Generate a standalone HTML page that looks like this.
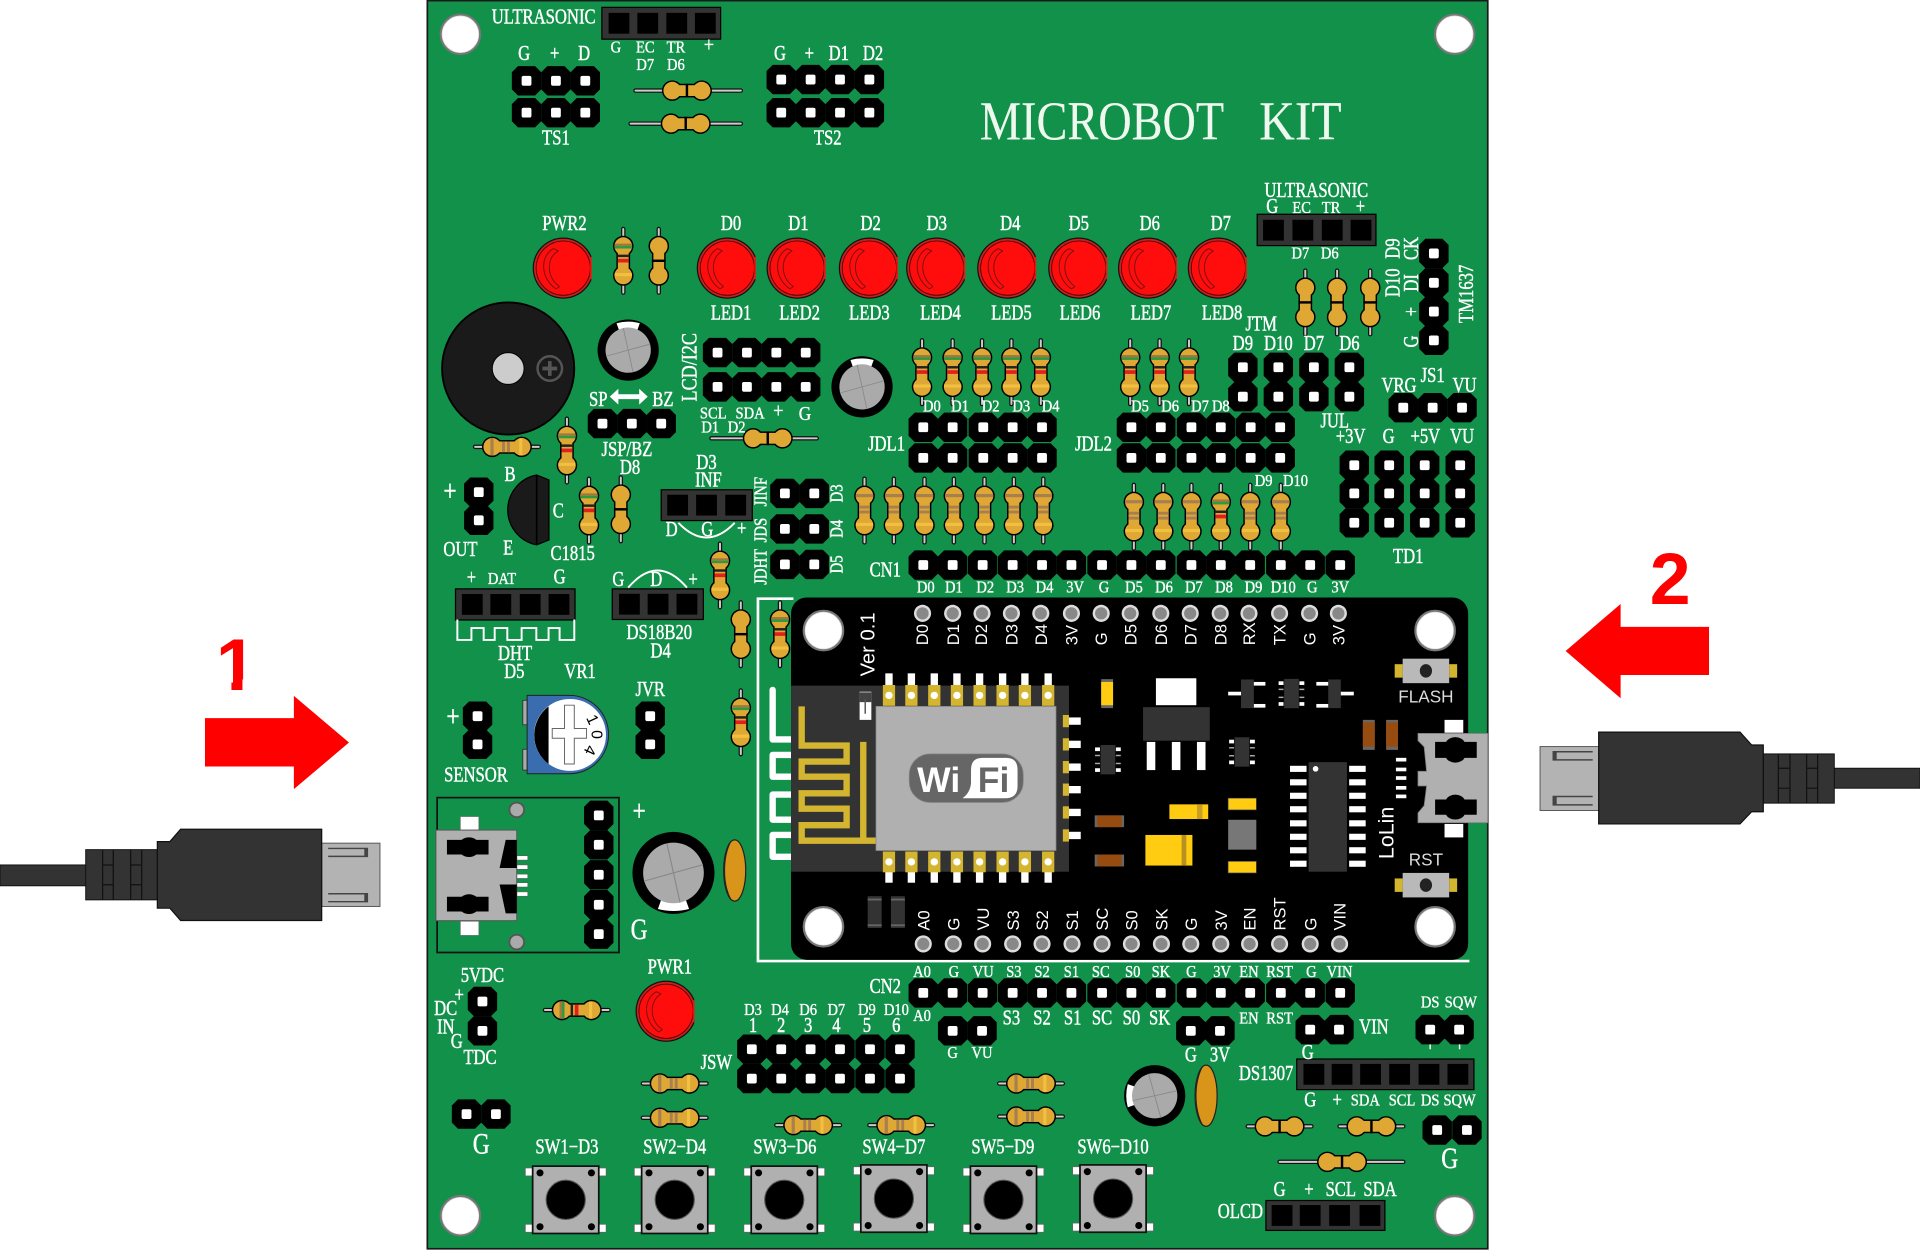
<!DOCTYPE html>
<html><head><meta charset="utf-8"><title>Microbot Kit</title>
<style>
html,body{margin:0;padding:0;background:#fff;width:1920px;height:1250px;overflow:hidden}
svg{display:block}
text{font-family:"Liberation Serif",serif;fill:#fff;stroke:#fff;stroke-width:.35;text-anchor:middle;transform-box:fill-box;transform-origin:center;transform:scaleX(.8)}
.sm text{transform:scaleX(.88);stroke-width:.3}
text.n{font-family:"Liberation Sans",sans-serif;stroke:none;transform:none}
text.t{stroke-width:.1;fill:#eef8ee;stroke:#eef8ee;transform:scaleX(.84)}
text.t2{stroke-width:.1;fill:#eef8ee;stroke:#eef8ee;transform:scaleX(.9)}
</style></head><body>
<svg xmlns="http://www.w3.org/2000/svg" width="1920" height="1250" viewBox="0 0 1568 1021" preserveAspectRatio="none">
<defs>
<g id="p"><path d="M-7,-12H7L12,-7V7L7,12H-7L-12,7V-7Z" fill="#000"/><rect x="-4" y="-4" width="8" height="8" rx="1.5" fill="#fff"/></g>
<rect id="s" x="-8.5" y="-8.5" width="17" height="17" fill="#000"/>
<g id="h"><circle r="16" fill="#fff" stroke="#777" stroke-width="2"/><circle r="15" fill="none" stroke="#ddd" stroke-width=".6"/></g>
<clipPath id="lc"><rect x="-30" y="-30" width="53" height="60"/></clipPath>
<g id="l"><g clip-path="url(#lc)"><circle r="25" fill="#111"/><circle r="24" fill="#c62020"/><circle r="22.5" fill="#400"/><circle r="21.8" fill="#ff0d0d"/></g><rect x="22" y="-9" width="1.2" height="18" fill="#ff0d0d"/><path d="M-8,-16C-19,-10-19,8-6,17M-4,-14C-14,-9-14,8-3,15M-8,-16L-4,-14M-6,17L-3,15" fill="none" stroke="#7a1010" stroke-width=".8"/></g>
<g id="bs"><circle cx="-12" r="8.4" fill="#000"/><circle cx="12" r="8.4" fill="#000"/><rect x="-12" y="-5.6" width="24" height="11.2" fill="#000"/><circle cx="-12" r="7.2" fill="#dfa733"/><circle cx="12" r="7.2" fill="#dfa733"/><rect x="-12" y="-4.4" width="24" height="8.8" fill="#dfa733"/></g>
<g id="b0"><use href="#bs"/><rect x="-1" y="-5.6" width="2" height="11.2" fill="#000"/></g>
<g id="b1"><use href="#bs"/><rect x="-13.5" y="-7" width="2.6" height="14" fill="#a87f4f"/><rect x="-4" y="-4.4" width="2.4" height="8.8" fill="#a87f4f"/><rect x="0" y="-4.4" width="2.4" height="8.8" fill="#a87f4f"/><rect x="10" y="-7" width="2.6" height="14" fill="#f0c040"/></g>
<g id="b2"><use href="#bs"/><rect x="-14" y="-7" width="2" height="14" fill="#9a7a40"/><rect x="-12" y="-7" width="2" height="14" fill="#2d9a40"/><rect x="-1.6" y="-4.4" width="3" height="8.8" fill="#e02020"/><rect x="-5" y="-4.4" width="2" height="8.8" fill="#222"/><rect x="10" y="-7" width="2.6" height="14" fill="#f0c040"/></g>
<g id="L"><line x1="-26" x2="26" stroke="#111" stroke-width="3.6" stroke-linecap="round"/><line x1="-26" x2="26" stroke="#ccc" stroke-width="1.6" stroke-linecap="round"/></g>
<g id="r0"><use href="#L"/><use href="#b0"/></g>
<g id="r1"><use href="#L"/><use href="#b1"/></g>
<g id="r2"><use href="#L"/><use href="#b2"/></g>
<g id="c"><circle r="25" fill="#000"/><path d="M-9.500,-22Q0,-24.500 9.500,-22L7,-15H-7Z" fill="#fff"/><circle r="18.5" fill="#aaa"/><path d="M-18,5L18,-5M-4,-18L4,18" stroke="#888" stroke-width=".7"/></g>
<g id="sw"><rect x="-33" y="-26" width="7" height="6.5" fill="#fff" stroke="#666" stroke-width=".6"/><rect x="26" y="-26" width="7" height="6.5" fill="#fff" stroke="#666" stroke-width=".6"/><rect x="-33" y="20" width="7" height="6.5" fill="#fff" stroke="#666" stroke-width=".6"/><rect x="26" y="20" width="7" height="6.5" fill="#fff" stroke="#666" stroke-width=".6"/><rect x="-27" y="-27.5" width="54" height="55" fill="#b0b0b0" stroke="#111" stroke-width="1.4"/><circle cx="-21" cy="-22" r="2.9" fill="#000"/><circle cx="21" cy="-22" r="2.9" fill="#000"/><circle cx="-21" cy="22" r="2.9" fill="#000"/><circle cx="21" cy="22" r="2.9" fill="#000"/><circle r="16" fill="#000" stroke="#555" stroke-width=".9"/><circle r="14.6" fill="#000"/></g>
<g id="gp"><rect x="-5" y="-8.5" width="10" height="17" fill="#d4b52f"/><circle r="3" fill="#fff"/></g>
<g id="ic"><rect x="-6" y="-12" width="12" height="24" fill="#333"/><rect x="-10.500" y="-10" width="4" height="3" fill="#fff"/><rect x="6.500" y="-10" width="4" height="3" fill="#fff"/><rect x="-10.500" y="7" width="4" height="3" fill="#fff"/><rect x="6.500" y="7" width="4" height="3" fill="#fff"/><rect x="-10.500" y="-4" width="4" height="1.200" fill="#aaa"/><rect x="6.500" y="-4" width="4" height="1.200" fill="#aaa"/><rect x="-10.500" y="2.500" width="4" height="1.200" fill="#aaa"/><rect x="6.500" y="2.500" width="4" height="1.200" fill="#aaa"/></g>
<g id="th"><circle r="7" fill="#ddd"/><circle r="5" fill="#888"/></g>
<g id="bt"><rect x="-25.500" y="-5.500" width="6.500" height="11" fill="#d4b52f"/><rect x="19" y="-5.500" width="6.500" height="11" fill="#d4b52f"/><rect x="-19" y="-10" width="38" height="20" fill="#b9b9b9"/><ellipse rx="5" ry="5.500" fill="#222"/></g>
</defs>

<rect width="1568" height="1021" fill="#fff"/>
<!-- cables -->
<g>
<rect x="0" y="706.500" width="71" height="17" fill="#333" stroke="#111" stroke-width=".8"/>
<rect x="70" y="694" width="58.500" height="41" fill="#333" stroke="#111" stroke-width=".8"/>
<path d="M83.800,694V735M92.500,694V735M106.700,694V735M115.700,694V735M83.800,706.500H92.500M83.800,722.700H92.500M106.700,706.500H115.700M106.700,722.700H115.700" stroke="#111" stroke-width="1" fill="none"/>
<rect x="262.700" y="688.700" width="47.600" height="51.700" fill="#b3b3b3" stroke="#555" stroke-width=".8"/>
<path d="M268,693H300V699.500H268" fill="none" stroke="#444" stroke-width="1.200"/><rect x="297.500" y="693" width="2.800" height="6.500" fill="#444"/>
<path d="M268,730H300V736.500H268" fill="none" stroke="#444" stroke-width="1.200"/><rect x="297.500" y="730" width="2.800" height="6.500" fill="#444"/>
<path d="M128.500,687.400H138.800L147.500,677.300H262.700V751.900H147.500L138.800,741.800H128.500Z" fill="#333" stroke="#111" stroke-width="1"/>

<rect x="1498" y="627.500" width="70" height="16.300" fill="#333" stroke="#111" stroke-width=".8"/>
<rect x="1440" y="615.800" width="58" height="40.200" fill="#333" stroke="#111" stroke-width=".8"/>
<path d="M1452.300,615.800V656M1461.800,615.800V656M1475.400,615.800V656M1484.400,615.800V656M1452.300,627.500H1461.800M1452.300,643.800H1461.800M1475.400,627.500H1484.400M1475.400,643.800H1484.400" stroke="#111" stroke-width="1" fill="none"/>
<rect x="1257.700" y="609.800" width="48" height="52.200" fill="#b3b3b3" stroke="#555" stroke-width=".8"/>
<path d="M1300.700,614H1268.500V620.700H1300.700" fill="none" stroke="#444" stroke-width="1.200"/><rect x="1268.500" y="614" width="2.800" height="6.700" fill="#444"/>
<path d="M1300.700,650.600H1268.500V657.400H1300.700" fill="none" stroke="#444" stroke-width="1.200"/><rect x="1268.500" y="650.600" width="2.800" height="6.800" fill="#444"/>
<path d="M1440,608.500H1430.500L1421,598H1305.600V673H1421L1430.500,663H1440Z" fill="#333" stroke="#111" stroke-width="1"/>
</g>
<!-- arrows -->
<path d="M167.400,586.600H240V568.400L285,606.500L240,644.600V626.100H167.400Z" fill="#f00"/>
<path d="M1278.600,531.700L1323.500,493.300V512H1395.700V551.300H1323.500V570.300Z" fill="#f00"/>
<text class="n" x="193" y="563.500" font-size="60" font-weight="bold" style="fill:#f00">1</text>
<rect x="165" y="555" width="24" height="10" fill="#fff"/><rect x="198" y="555" width="14" height="10" fill="#fff"/>
<text class="n" x="1364" y="493.300" font-size="60" font-weight="bold" style="fill:#f00">2</text>

<!-- board -->
<rect x="349" y="0.500" width="866" height="1019.500" fill="#119149" stroke="#1a1a1a" stroke-width="1.400"/>
<use href="#h" x="376" y="28"/><use href="#h" x="1188" y="28"/><use href="#h" x="376" y="993"/><use href="#h" x="1188" y="993"/>

<!-- sockets -->
<g fill="#333" stroke="#000" stroke-width="1">
<rect x="491.500" y="6" width="97" height="26"/><rect x="1026.700" y="175" width="97" height="25.600"/>
<rect x="372" y="481" width="97.600" height="25.400"/><rect x="500" y="481" width="74.400" height="25"/>
<rect x="540" y="400" width="74.400" height="25.200"/><rect x="1059" y="865" width="144.700" height="25"/>
<rect x="1033.800" y="980.600" width="97.200" height="24.400"/>
</g>
<use href="#s" x="505.500" y="19"/><use href="#s" x="529" y="19"/><use href="#s" x="552.700" y="19"/><use href="#s" x="576" y="19"/>
<use href="#s" x="1040" y="188"/><use href="#s" x="1064" y="188"/><use href="#s" x="1088" y="188"/><use href="#s" x="1111.500" y="188"/>
<use href="#s" x="385.700" y="493.700"/><use href="#s" x="409" y="493.700"/><use href="#s" x="433" y="493.700"/><use href="#s" x="456.500" y="493.700"/>
<use href="#s" x="514" y="493.500"/><use href="#s" x="537.400" y="493.500"/><use href="#s" x="561" y="493.500"/>
<use href="#s" x="553.400" y="412.600"/><use href="#s" x="577" y="412.600"/><use href="#s" x="600.800" y="412.600"/>
<use href="#s" x="1073" y="877.500"/><use href="#s" x="1096" y="877.500"/><use href="#s" x="1119.300" y="877.500"/><use href="#s" x="1143" y="877.500"/><use href="#s" x="1167" y="877.500"/><use href="#s" x="1190.600" y="877.500"/>
<use href="#s" x="1047" y="992.800"/><use href="#s" x="1070" y="992.800"/><use href="#s" x="1094" y="992.800"/><use href="#s" x="1118.800" y="992.800"/>

<!-- silk lines -->
<g fill="none" stroke="#fff" stroke-width="1.600">
<path d="M373.500,506V522.700H385V513H395V522.700H404V513H414.300V522.700H426V513H438V522.700H448V513H457V522.700H469V506"/>
<path d="M554,427Q577,451 600,427"/><path d="M513,480Q537,452 561,480"/>
<path d="M1168,849V857M1192,849V857" stroke-width="1.200"/>
<path d="M648,489H619V785H1200" stroke-width="2.200"/>
</g>
<g fill="none" stroke="#fff" stroke-width="5.200" stroke-linejoin="round" stroke-linecap="round">
<path d="M631,563.500V604H648"/><path d="M648,616.600H631V634.400H648"/><path d="M648,649H631V669.500H648"/><path d="M648,682H631V699.800H648"/>
</g>
<path d="M498,324L505,317.500V322H522V317.500L529,324L522,330.500V326H505V330.500Z" fill="#fff"/>

<!-- pins -->
<g>
<use href="#p" x="430" y="66"/><use href="#p" x="454" y="66"/><use href="#p" x="478" y="66"/><use href="#p" x="430" y="92"/><use href="#p" x="454" y="92"/><use href="#p" x="478" y="92"/>
<use href="#p" x="638" y="65"/><use href="#p" x="662" y="65"/><use href="#p" x="686" y="65"/><use href="#p" x="710" y="65"/><use href="#p" x="638" y="92"/><use href="#p" x="662" y="92"/><use href="#p" x="686" y="92"/><use href="#p" x="710" y="92"/>
<use href="#p" x="586" y="288"/><use href="#p" x="610" y="288"/><use href="#p" x="634" y="288"/><use href="#p" x="658" y="288"/><use href="#p" x="586" y="316"/><use href="#p" x="610" y="316"/><use href="#p" x="634" y="316"/><use href="#p" x="658" y="316"/>
<use href="#p" x="492" y="346"/><use href="#p" x="516" y="346"/><use href="#p" x="540" y="346"/>
<use href="#p" x="391" y="402"/><use href="#p" x="391" y="425"/>
<use href="#p" x="390" y="585"/><use href="#p" x="390" y="608"/>
<use href="#p" x="531" y="585"/><use href="#p" x="531" y="608"/>
<use href="#p" x="641" y="403"/><use href="#p" x="665" y="403"/><use href="#p" x="641" y="432"/><use href="#p" x="665" y="432"/><use href="#p" x="641" y="461"/><use href="#p" x="665" y="461"/>
<use href="#p" x="754" y="349"/><use href="#p" x="778" y="349"/><use href="#p" x="803" y="349"/><use href="#p" x="827" y="349"/><use href="#p" x="851" y="349"/>
<use href="#p" x="754" y="374"/><use href="#p" x="778" y="374"/><use href="#p" x="803" y="374"/><use href="#p" x="827" y="374"/><use href="#p" x="851" y="374"/>
<use href="#p" x="924" y="349"/><use href="#p" x="948" y="349"/><use href="#p" x="973" y="349"/><use href="#p" x="997" y="349"/><use href="#p" x="1021.400" y="349"/><use href="#p" x="1045.500" y="349"/>
<use href="#p" x="924" y="374"/><use href="#p" x="948" y="374"/><use href="#p" x="973" y="374"/><use href="#p" x="997" y="374"/><use href="#p" x="1021.400" y="374"/><use href="#p" x="1045.500" y="374"/>
<use href="#p" x="1015" y="300"/><use href="#p" x="1044" y="300"/><use href="#p" x="1073" y="300"/><use href="#p" x="1102" y="300"/>
<use href="#p" x="1015" y="324"/><use href="#p" x="1044" y="324"/><use href="#p" x="1073" y="324"/><use href="#p" x="1102" y="324"/>
<use href="#p" x="1171" y="207"/><use href="#p" x="1171" y="231"/><use href="#p" x="1171" y="254.500"/><use href="#p" x="1171" y="278"/>
<use href="#p" x="1146" y="333"/><use href="#p" x="1170" y="333"/><use href="#p" x="1194" y="333"/>
<use href="#p" x="1106" y="380"/><use href="#p" x="1134.500" y="380"/><use href="#p" x="1163.500" y="380"/><use href="#p" x="1192.500" y="380"/>
<use href="#p" x="1106" y="403"/><use href="#p" x="1134.500" y="403"/><use href="#p" x="1163.500" y="403"/><use href="#p" x="1192.500" y="403"/>
<use href="#p" x="1106" y="427"/><use href="#p" x="1134.500" y="427"/><use href="#p" x="1163.500" y="427"/><use href="#p" x="1192.500" y="427"/>
<use href="#p" x="754" y="461.500"/><use href="#p" x="778" y="461.500"/><use href="#p" x="802.500" y="461.500"/><use href="#p" x="827" y="461.500"/><use href="#p" x="851" y="461.500"/><use href="#p" x="875" y="461.500"/><use href="#p" x="900" y="461.500"/><use href="#p" x="924" y="461.500"/><use href="#p" x="948" y="461.500"/><use href="#p" x="973" y="461.500"/><use href="#p" x="997" y="461.500"/><use href="#p" x="1021" y="461.500"/><use href="#p" x="1046" y="461.500"/><use href="#p" x="1070" y="461.500"/><use href="#p" x="1094.500" y="461.500"/>
<use href="#p" x="754" y="811"/><use href="#p" x="778" y="811"/><use href="#p" x="802.500" y="811"/><use href="#p" x="827" y="811"/><use href="#p" x="851" y="811"/><use href="#p" x="875" y="811"/><use href="#p" x="900" y="811"/><use href="#p" x="924" y="811"/><use href="#p" x="948" y="811"/><use href="#p" x="973" y="811"/><use href="#p" x="997" y="811"/><use href="#p" x="1021" y="811"/><use href="#p" x="1046" y="811"/><use href="#p" x="1070" y="811"/><use href="#p" x="1094.500" y="811"/>
<use href="#p" x="778" y="842"/><use href="#p" x="802" y="842"/><use href="#p" x="972.500" y="842"/><use href="#p" x="996.300" y="842"/><use href="#p" x="1070" y="841"/><use href="#p" x="1093.500" y="841"/><use href="#p" x="1168" y="841"/><use href="#p" x="1191.600" y="841"/>
<use href="#p" x="1173.700" y="923"/><use href="#p" x="1198" y="923"/><use href="#p" x="381" y="910"/><use href="#p" x="405" y="910"/>
<use href="#p" x="394" y="818"/><use href="#p" x="394" y="842"/>
<use href="#p" x="614" y="857"/><use href="#p" x="638" y="857"/><use href="#p" x="662" y="857"/><use href="#p" x="686" y="857"/><use href="#p" x="710.500" y="857"/><use href="#p" x="735" y="857"/>
<use href="#p" x="614" y="881"/><use href="#p" x="638" y="881"/><use href="#p" x="662" y="881"/><use href="#p" x="686" y="881"/><use href="#p" x="710.500" y="881"/><use href="#p" x="735" y="881"/>
</g>

<!-- LEDs -->
<use href="#l" x="460" y="219"/><use href="#l" x="594" y="219"/><use href="#l" x="651" y="219"/><use href="#l" x="710" y="219"/><use href="#l" x="765" y="219"/><use href="#l" x="823" y="219"/><use href="#l" x="881" y="219"/><use href="#l" x="938" y="219"/><use href="#l" x="995" y="219"/><use href="#l" x="544" y="826"/>

<!-- resistors -->
<g>
<g transform="translate(561,74)"><line x1="-42" x2="44" stroke="#111" stroke-width="3.600" stroke-linecap="round"/><line x1="-42" x2="44" stroke="#ccc" stroke-width="1.600" stroke-linecap="round"/><use href="#b0"/></g>
<g transform="translate(560,101)"><line x1="-45" x2="45" stroke="#111" stroke-width="3.600" stroke-linecap="round"/><line x1="-45" x2="45" stroke="#ccc" stroke-width="1.600" stroke-linecap="round"/><use href="#b0"/></g>
<g transform="translate(627,358)"><line x1="-46" x2="40" stroke="#111" stroke-width="3.600" stroke-linecap="round"/><line x1="-46" x2="40" stroke="#ccc" stroke-width="1.600" stroke-linecap="round"/><use href="#b0"/></g>
<g transform="translate(1096,949)"><line x1="-51" x2="50" stroke="#111" stroke-width="3.600" stroke-linecap="round"/><line x1="-51" x2="50" stroke="#ccc" stroke-width="1.600" stroke-linecap="round"/><use href="#b0"/></g>
<use href="#r2" transform="translate(471,825)"/>
<use href="#r1" transform="translate(551,885)"/><use href="#r1" transform="translate(551,913)"/><use href="#r1" transform="translate(660,919)"/><use href="#r1" transform="translate(736,919)"/><use href="#r1" transform="translate(842,885)"/><use href="#r1" transform="translate(842,912)"/>
<use href="#r0" transform="translate(1045,920)"/><use href="#r0" transform="translate(1120,920)"/>
<use href="#r2" transform="translate(509,213) rotate(90)"/><use href="#r0" transform="translate(538,213) rotate(90)"/>
<use href="#r0" transform="translate(1066,247) rotate(90)"/><use href="#r0" transform="translate(1092,247) rotate(90)"/><use href="#r0" transform="translate(1119,247) rotate(90)"/>
<use href="#r2" transform="translate(753,304) rotate(90)"/><use href="#r2" transform="translate(778,304) rotate(90)"/><use href="#r2" transform="translate(802,304) rotate(90)"/><use href="#r2" transform="translate(826,304) rotate(90)"/><use href="#r2" transform="translate(850,304) rotate(90)"/>
<use href="#r2" transform="translate(923,304) rotate(90)"/><use href="#r2" transform="translate(947,304) rotate(90)"/><use href="#r2" transform="translate(971,304) rotate(90)"/>
<use href="#r2" transform="translate(463,368) rotate(90)"/><use href="#r2" transform="translate(481,417) rotate(90)"/><use href="#r0" transform="translate(507,416) rotate(90)"/>
<use href="#r2" transform="translate(588,470) rotate(90)"/><use href="#r0" transform="translate(605,518) rotate(90)"/><use href="#r2" transform="translate(637,518) rotate(90)"/><use href="#r2" transform="translate(605,590) rotate(90)"/>
<use href="#r1" transform="translate(706,417) rotate(90)"/><use href="#r1" transform="translate(730,417) rotate(90)"/><use href="#r1" transform="translate(755,417) rotate(90)"/><use href="#r1" transform="translate(779,417) rotate(90)"/><use href="#r1" transform="translate(804,417) rotate(90)"/><use href="#r1" transform="translate(828,417) rotate(90)"/><use href="#r1" transform="translate(852,417) rotate(90)"/>
<use href="#r1" transform="translate(926,422) rotate(90)"/><use href="#r1" transform="translate(950,422) rotate(90)"/><use href="#r1" transform="translate(973,422) rotate(90)"/><use href="#r2" transform="translate(997,422) rotate(90)"/><use href="#r1" transform="translate(1021,422) rotate(90)"/><use href="#r1" transform="translate(1046,422) rotate(90)"/>
</g>

<!-- buzzer -->
<circle cx="415" cy="301" r="54" fill="#1a1a1a" stroke="#000" stroke-width="1.500"/>
<circle cx="415" cy="301" r="13" fill="#ccc" stroke="#000" stroke-width=".8"/>
<circle cx="449" cy="301" r="10" fill="none" stroke="#555" stroke-width="2"/>
<path d="M443,301H455M449,295V307" stroke="#555" stroke-width="3"/>
<use href="#r1" transform="translate(414,365)"/>

<!-- caps -->
<use href="#c" transform="translate(513,286)"/>
<use href="#c" transform="translate(704,316)"/>
<use href="#c" transform="translate(550,713) rotate(180) scale(1.340)"/>
<use href="#c" transform="translate(943,895) rotate(-90)"/>
<ellipse cx="600" cy="711" rx="9" ry="25" fill="#d9951a" stroke="#222" stroke-width="1"/><path d="M597,687C590,700 590,722 597,735" fill="none" stroke="#222" stroke-width=".8"/>
<ellipse cx="985" cy="895" rx="9" ry="25" fill="#d9951a" stroke="#222" stroke-width="1"/><path d="M982,871C975,885 975,905 982,919" fill="none" stroke="#222" stroke-width=".8"/>

<!-- transistor -->
<path d="M438.300,388L448.300,392V441L438.300,445A29,29 0 0 1 438.300,388Z" fill="#1a1a1a" stroke="#000" stroke-width="1"/>
<path d="M438.300,388V445" stroke="#000" stroke-width="1.400"/>

<!-- VR1 -->
<rect x="427" y="572" width="3.500" height="20" fill="#aaa" stroke="#222" stroke-width=".6"/><rect x="427" y="612" width="3.500" height="17" fill="#aaa" stroke="#222" stroke-width=".6"/>
<path d="M430.500,568H465A32,32 0 0 1 465,632H430.500Z" fill="#3a6db0" stroke="#222" stroke-width=".8"/>
<circle cx="465.500" cy="600.300" r="29.400" fill="#fff"/>
<path d="M448,577A29.400,29.400 0 0 0 448,624Z" fill="#000"/>
<path d="M461,576H469V595H479V603H469V624H461V603H451V595H461Z" fill="#fff" stroke="#666" stroke-width=".8"/>
<g transform="translate(480,589.500) rotate(65)"><text class="n" font-size="13" style="fill:#000">1</text></g>
<g transform="translate(483,600) rotate(90)"><text class="n" font-size="13" style="fill:#000">0</text></g>
<g transform="translate(478,611) rotate(115)"><text class="n" font-size="13" style="fill:#000">4</text></g>

<!-- power module -->
<rect x="357" y="651.500" width="148.500" height="126.500" fill="#119149" stroke="#111" stroke-width="1.400"/>
<circle cx="422" cy="661.500" r="6" fill="#aaa" stroke="#555" stroke-width="1.500"/><circle cx="422" cy="769.500" r="6" fill="#aaa" stroke="#555" stroke-width="1.500"/>
<rect x="376" y="667" width="15" height="11" fill="#fff" stroke="#777" stroke-width=".5"/><rect x="376" y="752.500" width="15" height="11.500" fill="#fff" stroke="#777" stroke-width=".5"/>
<rect x="422" y="699" width="9" height="3.500" fill="#fff" stroke="#555" stroke-width=".4"/><rect x="422" y="706.500" width="9" height="3.500" fill="#fff" stroke="#555" stroke-width=".4"/><rect x="422" y="714" width="9" height="3.500" fill="#fff" stroke="#555" stroke-width=".4"/><rect x="422" y="721" width="9" height="3.500" fill="#fff" stroke="#555" stroke-width=".4"/><rect x="422" y="728.500" width="9" height="3.500" fill="#fff" stroke="#555" stroke-width=".4"/>
<rect x="356" y="678" width="66" height="74" fill="#b0b0b0" stroke="#555" stroke-width=".8"/>
<path d="M365,686H377A8,6 0 0 1 389,686H399V698H389A8,6 0 0 1 377,698H365Z" fill="#000"/>
<path d="M365,732.500H377A8,6 0 0 1 389,732.500H399V744.500H389A8,6 0 0 1 377,744.500H365Z" fill="#000"/>
<path d="M413,686H422V709H408Z" fill="#000"/><path d="M408,722.500H422V746H413Z" fill="#000"/>
<use href="#p" x="489" y="666"/><use href="#p" x="489" y="690"/><use href="#p" x="489" y="714.500"/><use href="#p" x="489" y="739"/><use href="#p" x="489" y="763"/>

<!-- switches -->
<use href="#sw" x="462" y="980"/><use href="#sw" x="551" y="980"/><use href="#sw" x="640.500" y="980"/><use href="#sw" x="730" y="979"/><use href="#sw" x="819.500" y="980"/><use href="#sw" x="909" y="979"/>

<!-- NodeMCU -->
<rect x="646" y="488" width="553" height="296" rx="13" fill="#000"/>
<use href="#h" x="672.500" y="515"/><use href="#h" x="1172" y="515"/><use href="#h" x="672.500" y="757"/><use href="#h" x="1172" y="757"/>
<g>
<use href="#th" x="753.400" y="501"/><use href="#th" x="778" y="501"/><use href="#th" x="802" y="501"/><use href="#th" x="826" y="501"/><use href="#th" x="850" y="501"/><use href="#th" x="875" y="501"/><use href="#th" x="899.300" y="501"/><use href="#th" x="923" y="501"/><use href="#th" x="948" y="501"/><use href="#th" x="972" y="501"/><use href="#th" x="996.500" y="501"/><use href="#th" x="1020" y="501"/><use href="#th" x="1045" y="501"/><use href="#th" x="1069.500" y="501"/><use href="#th" x="1093" y="501"/>
<use href="#th" x="754" y="771"/><use href="#th" x="778.500" y="771"/><use href="#th" x="802.500" y="771"/><use href="#th" x="827" y="771"/><use href="#th" x="851" y="771"/><use href="#th" x="875.500" y="771"/><use href="#th" x="900" y="771"/><use href="#th" x="924" y="771"/><use href="#th" x="948.500" y="771"/><use href="#th" x="972.500" y="771"/><use href="#th" x="997" y="771"/><use href="#th" x="1020.500" y="771"/><use href="#th" x="1045" y="771"/><use href="#th" x="1070" y="771"/><use href="#th" x="1094" y="771"/>
</g>
<rect x="646" y="560" width="227" height="152" fill="#333"/>
<path d="M654.700,577V609H691.400V622H654.700V634.400H691.400V648H654.700V660.500H691.400V674H654.700V686.700H716M705,606V686.700" fill="none" stroke="#d4b52f" stroke-width="5.200"/>
<rect x="702" y="565" width="9.600" height="23" fill="#fff"/><rect x="702" y="565.500" width="9.600" height="8" fill="#444"/><rect x="706" y="571" width="1.200" height="12" fill="#555"/>
<g fill="#fff">
<rect x="723" y="550" width="6" height="11"/><rect x="741.300" y="550" width="6" height="11"/><rect x="760" y="550" width="6" height="11"/><rect x="778.500" y="550" width="6" height="11"/><rect x="797" y="550" width="6" height="11"/><rect x="815.800" y="550" width="6" height="11"/><rect x="834" y="550" width="6" height="11"/><rect x="853" y="550" width="6" height="11"/>
<rect x="723" y="710" width="6" height="11"/><rect x="741.300" y="710" width="6" height="11"/><rect x="760" y="710" width="6" height="11"/><rect x="778.500" y="710" width="6" height="11"/><rect x="797" y="710" width="6" height="11"/><rect x="815.800" y="710" width="6" height="11"/><rect x="834" y="710" width="6" height="11"/><rect x="853" y="710" width="6" height="11"/>
<rect x="872" y="586" width="10.600" height="6"/><rect x="872" y="605" width="10.600" height="6"/><rect x="872" y="623.600" width="10.600" height="6"/><rect x="872" y="642" width="10.600" height="6"/><rect x="872" y="660.600" width="10.600" height="6"/><rect x="872" y="679.400" width="10.600" height="6"/>
</g>
<use href="#gp" x="726" y="568"/><use href="#gp" x="744.300" y="568"/><use href="#gp" x="763" y="568"/><use href="#gp" x="781.500" y="568"/><use href="#gp" x="800" y="568"/><use href="#gp" x="818.800" y="568"/><use href="#gp" x="837" y="568"/><use href="#gp" x="856" y="568"/>
<use href="#gp" x="726" y="704"/><use href="#gp" x="744.300" y="704"/><use href="#gp" x="763" y="704"/><use href="#gp" x="781.500" y="704"/><use href="#gp" x="800" y="704"/><use href="#gp" x="818.800" y="704"/><use href="#gp" x="837" y="704"/><use href="#gp" x="856" y="704"/>
<g fill="#d4b52f"><rect x="868" y="584" width="5" height="10"/><rect x="868" y="603" width="5" height="10"/><rect x="868" y="621.600" width="5" height="10"/><rect x="868" y="640" width="5" height="10"/><rect x="868" y="658.600" width="5" height="10"/><rect x="868" y="677.400" width="5" height="10"/></g>
<rect x="715.400" y="577" width="147" height="117.700" fill="#b0b0b0" stroke="#888" stroke-width=".6"/>
<rect x="742.500" y="615.800" width="93.200" height="39.700" rx="17" fill="#666" stroke="#888" stroke-width=".6"/>
<path d="M802,619H822Q831,619 831,629V642Q831,652 821,652H786Q792,648 793,640V629Q793,619 802,619Z" fill="#fff"/>
<text class="n" x="749" y="647" font-size="29" font-weight="bold" style="text-anchor:start">Wi</text>
<text class="n" x="798.500" y="647" font-size="29" font-weight="bold" style="text-anchor:start;fill:#666">Fi</text>

<!-- smd parts -->
<rect x="899.300" y="554.700" width="9.700" height="23.700" fill="#666"/><rect x="899.300" y="557" width="9.700" height="19" fill="#fc1"/>
<rect x="944" y="554" width="33" height="22" fill="#fff"/><rect x="933.500" y="577.600" width="54.500" height="27.400" fill="#333"/>
<rect x="936.500" y="606" width="7" height="23" fill="#fff"/><rect x="957" y="606" width="7" height="23" fill="#fff"/><rect x="977.500" y="606" width="7" height="23" fill="#fff"/>
<rect x="1013.500" y="555" width="10.500" height="23.400" fill="#333"/><rect x="1084.700" y="555" width="10.300" height="23.400" fill="#333"/>
<g fill="#fff"><rect x="1003" y="565" width="10.500" height="3"/><rect x="1024" y="557" width="9.400" height="3"/><rect x="1024" y="575" width="9.400" height="3"/><rect x="1075" y="557" width="9.700" height="3"/><rect x="1075" y="575" width="9.700" height="3"/><rect x="1095" y="565" width="10.600" height="3"/></g>
<use href="#ic" x="1054.700" y="566.500"/><use href="#ic" x="904.800" y="620.500"/><use href="#ic" x="1014.300" y="614.200"/>
<g><rect x="1113" y="588" width="9.700" height="24.500" fill="#666"/><rect x="1113" y="590" width="9.700" height="20" fill="#964c10"/><rect x="1132" y="588" width="9.700" height="24.500" fill="#666"/><rect x="1132" y="590" width="9.700" height="20" fill="#964c10"/>
<rect x="894" y="666" width="24" height="9.600" fill="#666"/><rect x="896" y="666" width="20" height="9.600" fill="#964c10"/><rect x="894" y="698" width="24" height="9.700" fill="#666"/><rect x="896" y="698" width="20" height="9.700" fill="#964c10"/></g>
<rect x="955" y="657" width="31.700" height="12" fill="#fc1"/><rect x="977.500" y="657" width="4.500" height="12" fill="#c9a020"/>
<rect x="935.400" y="682" width="38.400" height="25" fill="#fc1"/><rect x="965" y="682" width="3.800" height="25" fill="#b89020"/>
<rect x="1003" y="652" width="23" height="9.500" fill="#fc1" stroke="#555" stroke-width=".5"/><rect x="1003" y="703.600" width="23" height="9.400" fill="#fc1" stroke="#555" stroke-width=".5"/>
<rect x="1003" y="669.600" width="23" height="24.400" fill="#777"/>
<rect x="1068.700" y="622.500" width="31.300" height="89.500" fill="#333"/><circle cx="1074.400" cy="628" r="2.300" fill="#fff"/>
<g fill="#fff">
<rect x="1053.500" y="625.500" width="13.500" height="5"/><rect x="1053.500" y="636.500" width="13.500" height="5"/><rect x="1053.500" y="647.500" width="13.500" height="5"/><rect x="1053.500" y="658.500" width="13.500" height="5"/><rect x="1053.500" y="670" width="13.500" height="5"/><rect x="1053.500" y="681" width="13.500" height="5"/><rect x="1053.500" y="692" width="13.500" height="5"/><rect x="1053.500" y="703" width="13.500" height="5"/>
<rect x="1101.800" y="625.500" width="13.500" height="5"/><rect x="1101.800" y="636.500" width="13.500" height="5"/><rect x="1101.800" y="647.500" width="13.500" height="5"/><rect x="1101.800" y="658.500" width="13.500" height="5"/><rect x="1101.800" y="670" width="13.500" height="5"/><rect x="1101.800" y="681" width="13.500" height="5"/><rect x="1101.800" y="692" width="13.500" height="5"/><rect x="1101.800" y="703" width="13.500" height="5"/>
<rect x="1140" y="619" width="8.500" height="3"/><rect x="1140" y="627" width="8.500" height="3"/><rect x="1140" y="634" width="8.500" height="3"/><rect x="1140" y="642" width="8.500" height="3"/><rect x="1140" y="649" width="8.500" height="3"/>
</g>
<rect x="708.600" y="732" width="11.400" height="26" fill="#333"/><rect x="708.600" y="734" width="11.400" height="1.500" fill="#666"/><rect x="708.600" y="755" width="11.400" height="1.500" fill="#666"/>
<rect x="727.600" y="732" width="11.400" height="26" fill="#333"/><rect x="727.600" y="734" width="11.400" height="1.500" fill="#666"/><rect x="727.600" y="755" width="11.400" height="1.500" fill="#666"/>
<use href="#bt" x="1164.500" y="548"/><use href="#bt" x="1164.500" y="723"/>
<!-- micro USB on NodeMCU -->
<rect x="1179.700" y="588" width="15.300" height="10.500" fill="#fff"/><rect x="1179.700" y="673" width="15.300" height="11" fill="#fff"/>
<path d="M1158,599H1215V672H1158V664L1163,658L1165,642H1158V630H1165L1163,610L1158,605Z" fill="#b0b0b0" stroke="#777" stroke-width=".6"/>
<path d="M1172,606H1181A8,6 0 0 1 1196,606H1206V619H1196A8,6 0 0 1 1181,619H1172Z" fill="#000"/>
<path d="M1172,653H1181A8,6 0 0 1 1196,653H1206V665.500H1196A8,6 0 0 1 1181,665.500H1172Z" fill="#000"/>

<!-- NodeMCU labels -->
<g font-size="13.500">
<g transform="translate(758,527) rotate(-90)"><text class="n" style="text-anchor:start">D0</text></g>
<g transform="translate(783,527) rotate(-90)"><text class="n" style="text-anchor:start">D1</text></g>
<g transform="translate(806,527) rotate(-90)"><text class="n" style="text-anchor:start">D2</text></g>
<g transform="translate(831,527) rotate(-90)"><text class="n" style="text-anchor:start">D3</text></g>
<g transform="translate(855,527) rotate(-90)"><text class="n" style="text-anchor:start">D4</text></g>
<g transform="translate(880,527) rotate(-90)"><text class="n" style="text-anchor:start">3V</text></g>
<g transform="translate(904,527) rotate(-90)"><text class="n" style="text-anchor:start">G</text></g>
<g transform="translate(928,527) rotate(-90)"><text class="n" style="text-anchor:start">D5</text></g>
<g transform="translate(953,527) rotate(-90)"><text class="n" style="text-anchor:start">D6</text></g>
<g transform="translate(977,527) rotate(-90)"><text class="n" style="text-anchor:start">D7</text></g>
<g transform="translate(1001.500,527) rotate(-90)"><text class="n" style="text-anchor:start">D8</text></g>
<g transform="translate(1025,527) rotate(-90)"><text class="n" style="text-anchor:start">RX</text></g>
<g transform="translate(1050,527) rotate(-90)"><text class="n" style="text-anchor:start">TX</text></g>
<g transform="translate(1074.500,527) rotate(-90)"><text class="n" style="text-anchor:start">G</text></g>
<g transform="translate(1098,527) rotate(-90)"><text class="n" style="text-anchor:start">3V</text></g>
<g transform="translate(759,760) rotate(-90)"><text class="n" style="text-anchor:start">A0</text></g>
<g transform="translate(783.500,760) rotate(-90)"><text class="n" style="text-anchor:start">G</text></g>
<g transform="translate(807.500,760) rotate(-90)"><text class="n" style="text-anchor:start">VU</text></g>
<g transform="translate(832,760) rotate(-90)"><text class="n" style="text-anchor:start">S3</text></g>
<g transform="translate(856,760) rotate(-90)"><text class="n" style="text-anchor:start">S2</text></g>
<g transform="translate(880.500,760) rotate(-90)"><text class="n" style="text-anchor:start">S1</text></g>
<g transform="translate(905,760) rotate(-90)"><text class="n" style="text-anchor:start">SC</text></g>
<g transform="translate(929,760) rotate(-90)"><text class="n" style="text-anchor:start">S0</text></g>
<g transform="translate(953.500,760) rotate(-90)"><text class="n" style="text-anchor:start">SK</text></g>
<g transform="translate(977.500,760) rotate(-90)"><text class="n" style="text-anchor:start">G</text></g>
<g transform="translate(1002,760) rotate(-90)"><text class="n" style="text-anchor:start">3V</text></g>
<g transform="translate(1025.500,760) rotate(-90)"><text class="n" style="text-anchor:start">EN</text></g>
<g transform="translate(1050,760) rotate(-90)"><text class="n" style="text-anchor:start">RST</text></g>
<g transform="translate(1075,760) rotate(-90)"><text class="n" style="text-anchor:start">G</text></g>
<g transform="translate(1099,760) rotate(-90)"><text class="n" style="text-anchor:start">VIN</text></g>
</g>
<g transform="translate(714,552.500) rotate(-90)"><text class="n" font-size="16.500" style="text-anchor:start">Ver 0.1</text></g>
<g transform="translate(1138,701.700) rotate(-90)"><text class="n" font-size="17.500" style="text-anchor:start">LoLin</text></g>
<text class="n" x="1164.500" y="574" font-size="14" style="fill:#ddd">FLASH</text>
<text class="n" x="1164.500" y="707" font-size="14" style="fill:#ddd">RST</text>

<!-- labels -->
<text class="t" x="900" y="114" font-size="45">MICROBOT</text>
<text class="t2" x="1062" y="114" font-size="45">KIT</text>

<g font-size="17">
<text x="444" y="19">ULTRASONIC</text>
<text x="428" y="49">G</text><text x="453" y="49">+</text><text x="477" y="49">D</text>
<text x="637" y="49">G</text><text x="661" y="49">+</text><text x="685" y="49">D1</text><text x="713" y="49">D2</text>
<text x="454" y="118">TS1</text><text x="676" y="118">TS2</text>
<text x="461" y="188">PWR2</text><text x="597" y="188">D0</text><text x="652" y="188">D1</text><text x="711" y="188">D2</text><text x="765" y="188">D3</text><text x="825" y="188">D4</text><text x="881" y="188">D5</text><text x="939" y="188">D6</text><text x="997" y="188">D7</text>
<text x="597" y="261">LED1</text><text x="653" y="261">LED2</text><text x="710" y="261">LED3</text><text x="768" y="261">LED4</text><text x="826" y="261">LED5</text><text x="882" y="261">LED6</text><text x="940" y="261">LED7</text><text x="998" y="261">LED8</text>
<text x="1075" y="161">ULTRASONIC</text><text x="1039" y="174">G</text><text x="1111" y="174">+</text>
<text x="1030" y="270">JTM</text>
<text x="1015" y="286">D9</text><text x="1044" y="286">D10</text><text x="1073" y="286">D7</text><text x="1102" y="286">D6</text>
<text x="1170" y="312">JS1</text><text x="1142.500" y="320">VRG</text><text x="1196" y="320">VU</text>
<text x="1090" y="349">JUL</text><text x="1103" y="362">+3V</text><text x="1134" y="362">G</text><text x="1164" y="362">+5V</text><text x="1194" y="362">VU</text>
<text x="1150" y="460">TD1</text>
<text x="724" y="368">JDL1</text><text x="893" y="368">JDL2</text><text x="723" y="471">CN1</text><text x="723" y="811">CN2</text>
<text x="488.600" y="331.500">SP</text><text x="541.400" y="331.500">BZ</text>
<text x="512" y="372.400">JSP/BZ</text><text x="514.500" y="387">D8</text><text x="577" y="383">D3</text><text x="578.500" y="397.500">INF</text>
<text x="416.500" y="393">B</text><text x="376" y="454">OUT</text><text x="415" y="453">E</text><text x="456" y="422.500">C</text><text x="467.700" y="457.400">C1815</text>
<text x="385" y="477">+</text><text x="457" y="476.500">G</text>
<text x="420.600" y="539">DHT</text><text x="420" y="554">D5</text><text x="473.700" y="554">VR1</text>
<text x="538.400" y="522">DS18B20</text><text x="539.500" y="537">D4</text>
<text x="531" y="568.400">JVR</text><text x="388.700" y="638.400">SENSOR</text>
<text x="547" y="795">PWR1</text>
<text x="394" y="802">5VDC</text><text x="375" y="818">+</text><text x="364" y="829">DC</text><text x="364" y="844">IN</text><text x="373" y="856">G</text><text x="392" y="869">TDC</text>
<text x="585" y="873">JSW</text>
<text x="615" y="843">1</text><text x="638" y="843">2</text><text x="660" y="843">3</text><text x="683" y="843">4</text><text x="708" y="843">5</text><text x="732" y="843">6</text>
<text x="463" y="942">SW1−D3</text><text x="551" y="942">SW2−D4</text><text x="641" y="942">SW3−D6</text><text x="730" y="942">SW4−D7</text><text x="819" y="942">SW5−D9</text><text x="909" y="942">SW6−D10</text>
<text x="826" y="837">S3</text><text x="851" y="837">S2</text><text x="876" y="837">S1</text><text x="900" y="837">SC</text><text x="924" y="837">S0</text><text x="947" y="837">SK</text>
<text x="972.500" y="867">G</text><text x="996.300" y="867">3V</text><text x="1122" y="844">VIN</text><text x="1034" y="882">DS1307</text>
<text x="1070" y="904">G</text><text x="1092" y="904">+</text>
<text x="1013" y="995">OLCD</text><text x="1045" y="977">G</text><text x="1069" y="977">+</text><text x="1095" y="977">SCL</text><text x="1127" y="977">SDA</text>
<text x="1068" y="865">G</text>
<text x="505" y="478.600">G</text><text x="536" y="478.600">D</text><text x="566" y="478.600">+</text>
<text x="548.500" y="438">D</text><text x="577.600" y="438">G</text><text x="605.700" y="437">+</text>
</g>
<g font-size="13.500" class="sm">
<text x="503" y="43">G</text><text x="527" y="43">EC</text><text x="552" y="43">TR</text><text x="579" y="42" font-size="17">+</text><text x="527" y="57">D7</text><text x="552" y="57">D6</text>
<text x="1063" y="174">EC</text><text x="1087" y="174">TR</text><text x="1062" y="211">D7</text><text x="1086" y="211">D6</text>
<text x="761" y="336">D0</text><text x="784" y="336">D1</text><text x="809" y="336">D2</text><text x="834" y="336">D3</text><text x="858" y="336">D4</text>
<text x="931" y="336">D5</text><text x="955.600" y="336">D6</text><text x="980" y="336">D7</text><text x="997" y="336">D8</text>
<text x="1032" y="397">D9</text><text x="1058" y="397">D10</text>
<text x="582.500" y="341.700">SCL</text><text x="612.500" y="341.700">SDA</text><text x="635.600" y="341" font-size="17">+</text><text x="657.400" y="343" font-size="16">G</text>
<text x="580" y="353.400">D1</text><text x="601.600" y="353.400">D2</text>
<text x="410" y="477">DAT</text>
<text x="756" y="484">D0</text><text x="779" y="484">D1</text><text x="804.600" y="484">D2</text><text x="829" y="484">D3</text><text x="853" y="484">D4</text><text x="878" y="484">3V</text><text x="901.600" y="484">G</text><text x="926" y="484">D5</text><text x="950.600" y="484">D6</text><text x="975" y="484">D7</text><text x="999.600" y="484">D8</text><text x="1023.700" y="484">D9</text><text x="1048" y="484">D10</text><text x="1071.700" y="484">G</text><text x="1094.500" y="484">3V</text>
<text x="753" y="798">A0</text><text x="779" y="798">G</text><text x="803" y="798">VU</text><text x="828" y="798">S3</text><text x="851" y="798">S2</text><text x="875" y="798">S1</text><text x="899" y="798">SC</text><text x="925" y="798">S0</text><text x="948" y="798">SK</text><text x="973" y="798">G</text><text x="998" y="798">3V</text><text x="1020" y="798">EN</text><text x="1045" y="798">RST</text><text x="1071" y="798">G</text><text x="1094" y="798">VIN</text>
<text x="753" y="834">A0</text><text x="1020" y="836">EN</text><text x="1045" y="836">RST</text>
<text x="778" y="864">G</text><text x="802" y="864">VU</text>
<text x="1168" y="823">DS</text><text x="1193" y="823">SQW</text>
<text x="1115" y="903">SDA</text><text x="1145" y="903">SCL</text><text x="1168" y="903">DS</text><text x="1192" y="903">SQW</text>
<text x="615" y="829">D3</text><text x="637" y="829">D4</text><text x="660" y="829">D6</text><text x="683" y="829">D7</text><text x="708" y="829">D9</text><text x="732" y="829">D10</text>
</g>
<g font-size="24">
<text x="367.500" y="409">+</text><text x="370" y="593">+</text><text x="522" y="670">+</text><text x="522" y="767">G</text><text x="393" y="942">G</text><text x="1184" y="954">G</text>
</g>
<!-- rotated labels -->
<g font-size="17">
<g transform="translate(1203,240) rotate(-90)"><text>TM1637</text></g>
<g transform="translate(1158,203) rotate(-90)"><text>CK</text></g>
<g transform="translate(1143,203) rotate(-90)"><text>D9</text></g>
<g transform="translate(1143,231) rotate(-90)"><text>D10</text></g>
<g transform="translate(1158,231) rotate(-90)"><text>DI</text></g>
<g transform="translate(1158,254.500) rotate(-90)"><text>+</text></g>
<g transform="translate(1158,279) rotate(-90)"><text>G</text></g>
<g transform="translate(569,300) rotate(-90)"><text font-size="18.500">LCD/I2C</text></g>
</g>
<g font-size="15">
<g transform="translate(626,401.600) rotate(-90)"><text>JINF</text></g>
<g transform="translate(626,433) rotate(-90)"><text>JDS</text></g>
<g transform="translate(626,463) rotate(-90)"><text>JDHT</text></g>
<g transform="translate(688,403) rotate(-90)"><text>D3</text></g>
<g transform="translate(688,432) rotate(-90)"><text>D4</text></g>
<g transform="translate(688,461) rotate(-90)"><text>D5</text></g>
</g>
</svg>
</body></html>
